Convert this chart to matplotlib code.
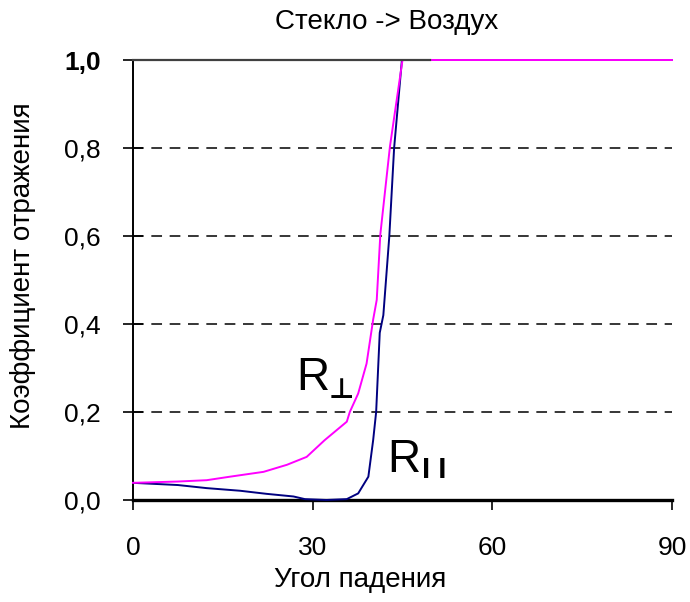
import matplotlib
matplotlib.use("Agg")
import matplotlib.pyplot as plt

# Data
angle_perp = [0, 7.5, 12.3, 16.2, 21.8, 25.7, 29.0, 32.0, 35.7, 36.2, 37.6, 39.0, 40.1, 40.7, 41.3, 42.9, 45.0, 90.0]
r_perp = [0.039, 0.042, 0.045, 0.053, 0.064, 0.080, 0.098, 0.136, 0.178, 0.20, 0.242, 0.31, 0.41, 0.455, 0.604, 0.803, 1.0, 1.0]

angle_par = [0, 7.5, 12.3, 17.9, 22.3, 26.8, 28.7, 32.3, 35.7, 37.6, 39.3, 40.1, 40.6, 41.2, 41.8, 42.8, 43.6, 44.9, 90.0]
r_par = [0.039, 0.034, 0.027, 0.021, 0.014, 0.008, 0.002, 0.0, 0.002, 0.015, 0.053, 0.136, 0.20, 0.38, 0.42, 0.60, 0.80, 1.0, 1.0]

x_ticks = [0, 30, 60, 90]
y_ticks = [0.0, 0.2, 0.4, 0.6, 0.8, 1.0]
y_tick_labels = ["0,0", "0,2", "0,4", "0,6", "0,8", "1,0"]

title = "Стекло -> Воздух"
xlabel = "Угол падения"
ylabel = "Коэффициент отражения"

FONT = ["Liberation Sans", "DejaVu Sans"]

fig = plt.figure(figsize=(6.9, 6.02), dpi=100)
ax = fig.add_axes([133/690, 1-500/602, (672-133)/690, (500-60)/602])
ax.set_xlim(0, 90)
ax.set_ylim(0, 1.0)

for y in y_ticks[1:-1]:
    ax.axhline(y, color="black", lw=1.1, ls=(0, (7, 5)), zorder=1)

ax.plot(angle_par, r_par, color="#000080", lw=1.4, zorder=3, clip_on=False)
ax.plot(angle_perp, r_perp, color="#FF00FF", lw=1.4, zorder=4, clip_on=False)

# partial top line
ax.axhline(1.0, xmin=0, xmax=0.551, color="#404040", lw=1.6, zorder=5, clip_on=False)

for s in ["top", "right"]:
    ax.spines[s].set_visible(False)
ax.spines["left"].set_linewidth(1.4)
ax.spines["bottom"].set_linewidth(2.4)
ax.spines["left"].set_color("black")
ax.spines["bottom"].set_color("black")

ax.set_xticks(x_ticks)
ax.set_xticklabels([str(v) for v in x_ticks], fontfamily=FONT, fontsize=19)
ax.set_yticks(y_ticks)
ax.set_yticklabels(y_tick_labels, fontfamily=FONT, fontsize=19)
ax.get_yticklabels()[-1].set_fontweight("bold")
ax.tick_params(axis="x", direction="out", length=7, width=1.2, pad=19)
ax.tick_params(axis="y", direction="inout", length=14, width=1.2, pad=16)

fig.text(387/690, 1-22/602, title, fontfamily=FONT, fontsize=20, ha="center", va="center")
fig.text(360/690, 1-580/602, xlabel, fontfamily=FONT, fontsize=20, ha="center", va="center")
fig.text(23/690, 1-266/602, ylabel, fontfamily=FONT, fontsize=20, ha="center", va="center", rotation=90)

ax.text(27.2, 0.25, "R", fontfamily="Liberation Sans", fontsize=33, ha="left", va="baseline", zorder=6)
ax.text(32.7, 0.232, "⊥", fontfamily="DejaVu Sans", fontsize=20, fontweight="bold", ha="left", va="baseline", zorder=6)
ax.text(42.4, 0.064, "R", fontfamily="Liberation Sans", fontsize=33, ha="left", va="baseline", zorder=6)
ax.text(48.2, 0.05, "I I", fontfamily="Liberation Sans", fontsize=21, fontweight="bold", ha="left", va="baseline", zorder=6)

fig.savefig("out.png", dpi=100)
